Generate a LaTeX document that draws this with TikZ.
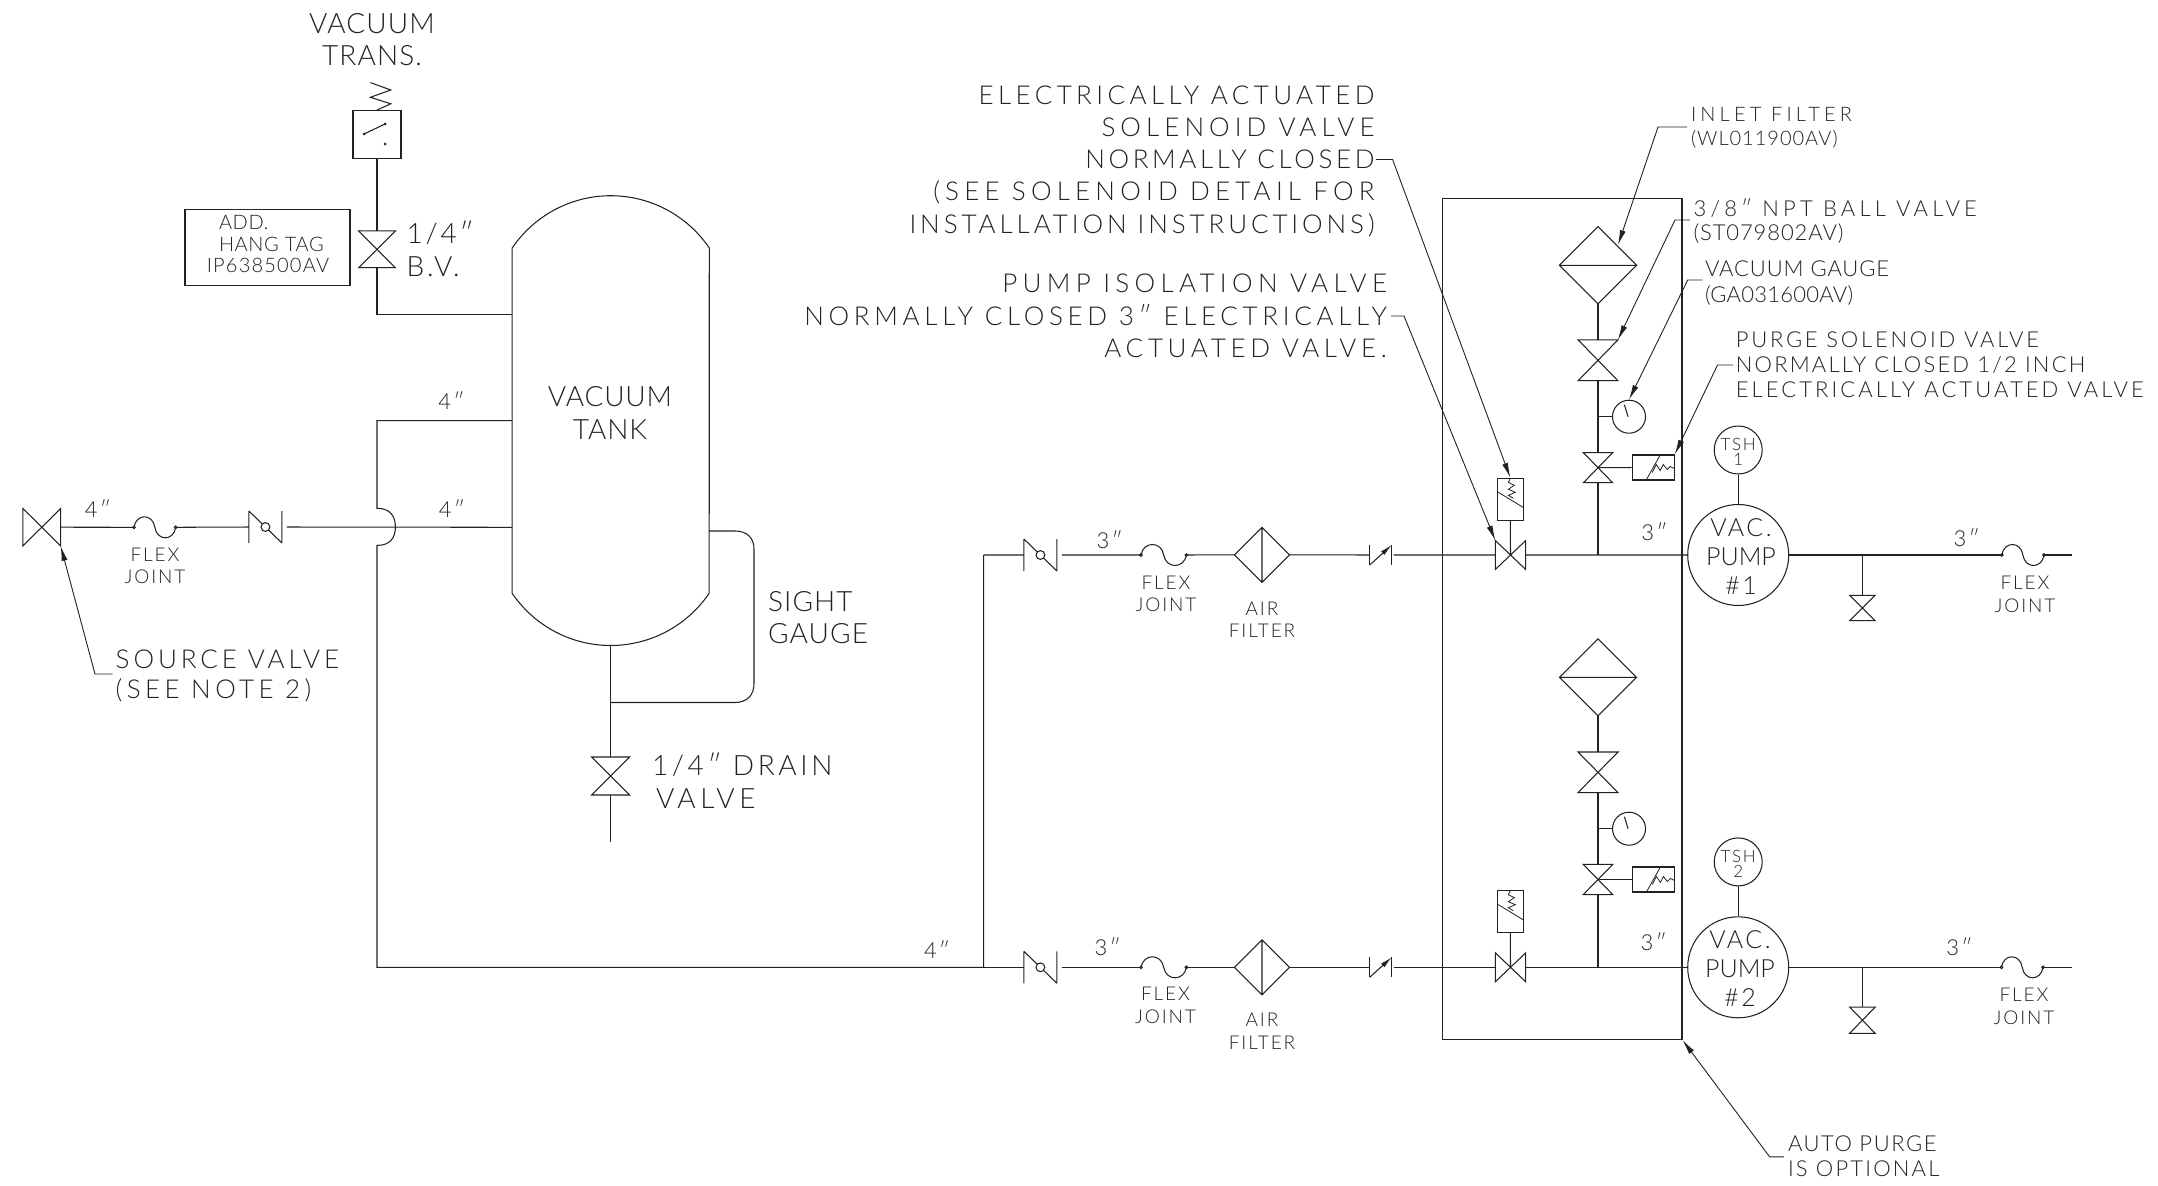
\documentclass[tikz,border=0pt]{standalone}
\usepackage{fontspec}
\usetikzlibrary{arrows.meta}
\newfontfamily\ltr{Lato Light}
\newcommand\lsp[2]{{\addfontfeature{LetterSpace=#1}#2}}
\tikzset{
  base/.style={draw=none,inner sep=0pt,outer sep=0pt},
  tx/.style n args={3}{font={\ltr\fontsize{#1}{#2}\selectfont\addfontfeature{LetterSpace=#3}},yshift=0.64*#1 pt,text=ink},
  lab/.style={inner sep=0pt,outer sep=0pt},
  leader/.style={-{Latex[length=15pt,width=6pt]},line width=0.9pt},
  gaugeC/.style={draw,circle,inner sep=0pt,minimum size=33pt},
  tshC/.style={draw,circle,inner sep=0pt,minimum size=48pt},
  pumpC/.style={draw,circle,inner sep=0pt,minimum size=101pt}
}
\definecolor{ink}{HTML}{222222}
\newcommand\lblL[5]{\node[lab,#1,anchor=north west,align=left] (#2) at (#3,#4) {\rule{0pt}{1em}#5};}
\newcommand\lblC[5]{\node[lab,#1,anchor=north,align=center] (#2) at (#3,#4) {\rule{0pt}{1em}#5};}
\newcommand\lblR[5]{\node[lab,#1,anchor=north east,align=right] (#2) at (#3,#4) {\rule{0pt}{1em}#5};}
\newcommand\sym[5]{\node[base,minimum width=#4pt,minimum height=#5pt] (#1) at (#2,#3) {};}
\newcommand\hval[5]{\sym{#1}{#2}{#3}{#4}{#5}\draw (#1.north west)--(#1.south east)--(#1.north east)--(#1.south west)--cycle;}
\newcommand\vval[5]{\sym{#1}{#2}{#3}{#4}{#5}\draw (#1.north west)--(#1.north east)--(#1.south west)--(#1.south east)--cycle;}
\newcommand\chkA[3]{\sym{#1}{#2}{#3}{33}{32}\draw (#1.north west)--(#1.south west) (#1.north east)--(#1.south east) (#1.north west)--(#1.south east);
  \draw[fill=white] (#1.center) circle (4.4pt);
  \coordinate (#1out) at ([xshift=5pt]#1.east);}
\newcommand\chkB[3]{\sym{#1}{#2}{#3}{22}{20}\draw (#1.north west)--(#1.south west) (#1.north east)--(#1.south east);
  \draw[-{Latex[length=12pt,width=5pt]}] (#1.south west)--(#1.north east);
  \coordinate (#1out) at ([xshift=2pt]#1.east);}
\newcommand\flexj[4]{\sym{#1}{#2}{#4}{#3}{21}
  \draw (#1.west) .. controls ([xshift=0.05*#3 pt,yshift=14pt]#1.west) and ([xshift=0.45*#3 pt,yshift=14pt]#1.west) .. (#1.center)
    .. controls ([xshift=0.05*#3 pt,yshift=-14pt]#1.center) and ([xshift=0.45*#3 pt,yshift=-14pt]#1.center) .. (#1.east);
  \draw[fill=white] (#1.west) circle (1.3pt) (#1.east) circle (1.3pt);}
\newcommand\filtV[5]{\sym{#1}{#2}{#3}{#4}{#5}\draw (#1.north)--(#1.east)--(#1.south)--(#1.west)--cycle (#1.north)--(#1.south);}
\newcommand\filtH[5]{\sym{#1}{#2}{#3}{#4}{#5}\draw (#1.north)--(#1.east)--(#1.south)--(#1.west)--cycle (#1.west)--(#1.east);}
\newcommand\purgeS[3]{\node[draw,minimum width=42pt,minimum height=25pt,inner sep=0pt] (#1) at (#2,#3) {};
  \begin{scope}[shift={(#1.center)},line width=0.8pt]
    \draw (-7,12.5)--(7,-12.5);
    \draw (-1,5)--(3,-3)--(7,3)--(10,-3)--(14,2)--(17,-1)--(21,1);
  \end{scope}}
\newcommand\soleS[3]{\node[draw,minimum width=25.5pt,minimum height=42pt,inner sep=0pt] (#1) at (#2,#3) {};
  \begin{scope}[shift={(#1.center)},line width=0.8pt]
    \draw (-12.75,-7.5)--(12.75,8);
    \draw (0,-21)--(-2,-17)--(4,-14)--(-2,-10)--(5,-7)--(-2,-4)--(3,-1);
  \end{scope}}
\newcommand\gaugeG[3]{\node[gaugeC] (#1) at (#2,#3) {};
  \draw ([xshift=-4.6pt,yshift=12pt]#1.center)--([xshift=-1pt,yshift=0pt]#1.center);}
\begin{document}
\begin{tikzpicture}[x=1pt,y=-1pt,line width=1.05pt,draw=ink,color=ink]
\useasboundingbox (0,0) rectangle (2158,1186);
\fill[white] (0,0) rectangle (2158,1186);

%---------- vacuum transmitter ----------
\lblC{tx={28}{32}{4}}{ltrans}{372}{23}{VACUUM\\TRANS.\hspace{8pt}}
\node[draw,minimum width=48pt,minimum height=47.5pt,inner sep=0pt] (trans) at (377,134.3) {};
\draw (370.4,82.6)--(390.8,90)--(370.4,97.3)--(390.8,103.8)--(trans.north);
\fill (364,134) circle (1.5pt) (385,124) circle (1.5pt) (385,144) circle (1.5pt);
\draw (364,134)--(385,124);
\vval{bv}{377}{249.3}{36.7}{36.7}
\coordinate (tkA) at (512.2,314.5);
\coordinate (bvdn) at (377,314.5);
\draw (trans.south)--(bv.north);
\draw (bv.south)--(bvdn)--(tkA);
\node[draw,minimum width=165pt,minimum height=76.2pt,inner sep=0pt] (tag) at (267.5,247.5) {};
\lblL{tx={20}{21.5}{3}}{ltaga}{219}{222.7}{ADD.\\HANG TAG}
\lblC{tx={20}{21.5}{6}}{ltagb}{268}{265.4}{IP638500AV}
\lblL{tx={28}{33}{10}}{lbv}{406.6}{233}{1/4″\\B.V.}

%---------- tank ----------
\draw (512.2,248) arc[start angle=145.9,end angle=34.1,radius=119pt]
  -- (709.2,593.2) arc[start angle=-34.1,end angle=-145.9,radius=119pt] -- cycle;
\coordinate (tkTop) at (610.7,196);
\coordinate (tkBot) at (610.7,645.5);
\lblC{tx={28}{32.6}{3}}{ltank}{610}{396.7}{VACUUM\\TANK}
\coordinate (sgA) at (709.2,531);
\coordinate (sgB) at (610.7,702.5);
\draw (sgA)--(735,531) .. controls (747,531) and (754,538) .. (754,549)--(754,684)
  .. controls (754,695) and (747,702.5) .. (735,702.5)--(sgB);
\lblL{tx={28}{32}{4}}{lsg}{768}{601}{SIGHT\\GAUGE}
\vval{dv}{610.7}{776}{38}{38}
\coordinate (dvend) at (610.7,842);
\draw (tkBot)--(dv.north) (dv.south)--(dvend);
\lblL{tx={28}{33}{13}}{ldv}{652}{765}{1/4″ DRAIN\\\hspace{4pt}\lsp{16}{VALVE}}

%---------- inlet ----------
\hval{src}{41.8}{527.2}{37.7}{37.4}
\flexj{fxA}{154.85}{41.7}{527.3}
\chkA{chA}{265.4}{527}
\coordinate (tkB) at (512.2,527.3);
\draw (src.east)--(fxA.west) (fxA.east)--(chA.west) (chAout)--(tkB);
\lblC{tx={22}{22}{10}}{l4a}{98}{510}{4″}
\lblC{tx={19}{22}{10}}{lfxA}{155}{555}{FLEX\\JOINT}
\coordinate (tkC) at (512.2,420.6);
\coordinate (hdA) at (377,420.6);
\coordinate (hdB) at (377,967.3);
\coordinate (hdC) at (983.7,967.3);
\coordinate (hdD) at (983.7,555);
\draw (tkC)--(hdA)--(377,508.3) .. controls (390,508.3) and (395.4,516) .. (395.4,527)
  .. controls (395.4,538) and (390,545.4) .. (377,545.4)--(hdB)--(hdC)--(hdD);
\lblC{tx={22}{22}{10}}{l4b}{451.5}{401.7}{4″}
\lblC{tx={22}{22}{10}}{l4c}{452}{509.6}{4″}
\lblC{tx={22}{22}{10}}{l4d}{937}{951}{4″}
\lblL{tx={26}{30}{15}}{lsrc}{115.7}{659}{SOURCE VALVE\\\lsp{17}{(SEE NOTE 2)}}
\coordinate (srcA) at (112.7,674);
\coordinate (srcE) at (95,674);
\draw[leader] (srcA) -- (srcE) -- (src.south east);

%---------- purge box ----------
\node[draw,minimum width=239.5pt,minimum height=840.8pt,inner sep=0pt] (box) at (1562.25,619.1) {};

%---------- upper train ----------
\chkA{chB}{1040.4}{555}
\flexj{fxB}{1163.7}{45.4}{555}
\filtV{afB}{1262}{554.8}{55}{55}
\chkB{ckB}{1380.7}{555}
\hval{ivB}{1510.5}{555}{30.4}{29}
\soleS{slB}{1510.3}{499.3}
\node[pumpC] (pmB) at (1738.2,555) {};
\draw (hdD)--(chB.west) (chBout)--(fxB.west) (fxB.east)--(afB.west) (afB.east)--(ckB.west) (ckBout)--(ivB.west) (ivB.east)--(pmB.west);
\draw (slB.south)--(ivB.center);
\lblC{tx={22}{22}{10}}{l3a}{1109.6}{540.7}{3″}
\lblC{tx={19}{22}{10}}{lfxB}{1166}{582.7}{FLEX\\JOINT}
\lblC{tx={19}{22}{10}}{lafB}{1262}{608.3}{AIR\\FILTER}
\lblC{tx={22}{22}{10}}{l3b}{1654.4}{532.3}{3″}
\filtH{ifB}{1598}{265.3}{77.3}{77.3}
\vval{bvB}{1598}{360.3}{39.7}{40.7}
\gaugeG{ggB}{1629}{416.7}
\vval{pvB}{1598}{467.7}{29.2}{30}
\purgeS{psB}{1653.2}{467.5}
\coordinate (brB) at (1598,555);
\draw (ifB.south)--(bvB.north) (bvB.south)--(pvB.north) (pvB.south)--(brB);
\draw (1598,416.7)--(ggB.west);
\draw (pvB.center)--(psB.west);
\node[tshC] (tsB) at (1738.2,450) {};
\draw (tsB.south)--(pmB.north);
\lblC{tx={17}{15.5}{10}}{ltsB}{1738.2}{444.3}{TSH\\1}
\lblC{tx={25}{29}{10}}{lpmB}{1741}{527.7}{VAC.\\\lsp{0}{PUMP}\\\#1}
\coordinate (otB) at (2072.3,555);
\flexj{fxC}{2022.9}{42.2}{555}
\vval{dvB}{1862.4}{608}{25.3}{25.4}
\coordinate (tB) at (1862.4,555);
\draw (pmB.east)--(fxC.west) (fxC.east)--(otB) (tB)--(dvB.north);
\lblC{tx={22}{22}{10}}{l3c}{1966.6}{538.3}{3″}
\lblC{tx={19}{22.5}{10}}{lfxC}{2025}{583}{FLEX\\JOINT}

%---------- lower train ----------
\chkA{chD}{1040.4}{967.3}
\flexj{fxD}{1163.7}{45.4}{967.3}
\filtV{afD}{1262}{967.3}{55}{55}
\chkB{ckD}{1380.7}{967.3}
\hval{ivD}{1510.5}{967.3}{30.4}{29}
\soleS{slD}{1510.3}{911.7}
\node[pumpC] (pmD) at (1738.2,967.3) {};
\draw (hdC)--(chD.west) (chDout)--(fxD.west) (fxD.east)--(afD.west) (afD.east)--(ckD.west) (ckDout)--(ivD.west) (ivD.east)--(pmD.west);
\draw (slD.south)--(ivD.center);
\lblC{tx={22}{22}{10}}{l3d}{1107.7}{948}{3″}
\lblC{tx={19}{23.5}{10}}{lfxD}{1165.5}{993.5}{FLEX\\JOINT}
\lblC{tx={19}{23.5}{10}}{lafD}{1262}{1019.6}{AIR\\FILTER}
\lblC{tx={22}{22}{10}}{l3e}{1653.6}{943}{3″}
\filtH{ifD}{1598}{677.3}{77}{77}
\vval{bvD}{1598}{772.3}{40}{40.6}
\gaugeG{ggD}{1629}{828.7}
\vval{pvD}{1598}{879.5}{29.6}{30.3}
\purgeS{psD}{1653.4}{879.5}
\coordinate (brD) at (1598,967.3);
\draw (ifD.south)--(bvD.north) (bvD.south)--(pvD.north) (pvD.south)--(brD);
\draw (1598,828.7)--(ggD.west);
\draw (pvD.center)--(psD.west);
\node[tshC] (tsD) at (1738.2,861.9) {};
\draw (tsD.south)--(pmD.north);
\lblC{tx={17}{15}{10}}{ltsD}{1738.2}{856.5}{TSH\\2}
\lblC{tx={25}{29}{10}}{lpmD}{1740}{939.5}{VAC.\\\lsp{0}{PUMP}\\\#2}
\coordinate (otD) at (2071.5,967.3);
\flexj{fxE}{2022.2}{41.6}{967.3}
\vval{dvD}{1862.4}{1020.2}{25.6}{26.3}
\coordinate (tD) at (1862.4,967.3);
\draw (pmD.east)--(fxE.west) (fxE.east)--(otD) (tD)--(dvD.north);
\lblC{tx={22}{22}{10}}{l3f}{1959.4}{947.8}{3″}
\lblC{tx={19}{22.5}{10}}{lfxE}{2024}{994.7}{FLEX\\JOINT}

%---------- callouts ----------
\lblR{tx={26}{32.2}{17}}{lsol}{1374.6}{95}{ELECTRICALLY ACTUATED\\\lsp{19.5}{SOLENOID VALVE}\\\lsp{14}{NORMALLY CLOSED}\\\lsp{20}{(SEE SOLENOID DETAIL FOR}\\\lsp{15}{INSTALLATION INSTRUCTIONS)}}
\coordinate (solA) at (1376,159.5);
\coordinate (solB) at (1392.6,159.5);
\draw[leader] (solA)--(solB)--(slB.north);
\lblR{tx={26}{32.3}{18}}{liso}{1387}{283.5}{\lsp{20.5}{PUMP ISOLATION VALVE}\\NORMALLY CLOSED 3″ ELECTRICALLY\\ACTUATED VALVE.}
\coordinate (isoA) at (1391,316);
\coordinate (isoB) at (1404,316);
\draw[leader] (isoA)--(isoB)--(ivB.north west);
\lblL{tx={20}{24}{21}}{linl}{1691}{114}{INLET FILTER\\\lsp{5}{(WL011900AV)}}
\coordinate (inlA) at (1687,127);
\coordinate (inlB) at (1658,127);
\coordinate (inlT) at (1618,245);
\draw[leader] (inlA)--(inlB)--(inlT);
\lblL{tx={22}{24.7}{19}}{lbal}{1693.6}{208.3}{3/8″ NPT BALL VALVE\\\lsp{4}{(ST079802AV)}}
\coordinate (balA) at (1690,220);
\coordinate (balB) at (1675,220);
\draw[leader] (balA)--(balB)--(bvB.north east);
\lblL{tx={22}{26}{4}}{lgag}{1705}{268.3}{VACUUM GAUGE\\\lsp{1}{(GA031600AV)}}
\coordinate (gagA) at (1702.6,280);
\coordinate (gagB) at (1687.7,280);
\draw[leader] (gagA)--(gagB)--(ggB.north);
\lblL{tx={22}{25}{12.5}}{lpur}{1735.8}{340}{PURGE SOLENOID VALVE\\\lsp{10}{NORMALLY CLOSED 1/2 INCH}\\\lsp{14}{ELECTRICALLY ACTUATED VALVE}}
\coordinate (purA) at (1733,365);
\coordinate (purB) at (1717.5,365);
\draw[leader] (purA)--(purB)--(psB.north east);
\lblL{tx={22}{24.7}{7}}{laut}{1788}{1144}{AUTO PURGE\\\lsp{10}{IS OPTIONAL}}
\coordinate (autA) at (1784,1156.8);
\coordinate (autB) at (1769.6,1156.8);
\draw[leader] (autA)--(autB)--(box.south east);
\end{tikzpicture}
\end{document}
